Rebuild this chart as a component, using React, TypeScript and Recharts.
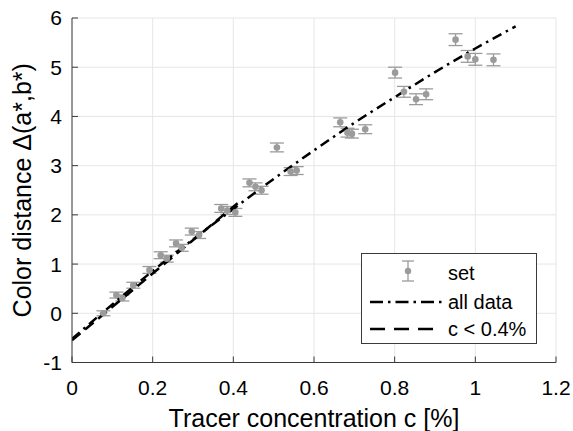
import React from 'react';
import {
  ComposedChart,
  Scatter,
  Line,
  ErrorBar,
  XAxis,
  YAxis,
  CartesianGrid,
  Legend,
} from 'recharts';

// measured points (tracer concentration in %, colour distance, error half-height)
const concX = [
  0.078, 0.11, 0.125, 0.152, 0.192, 0.22, 0.235, 0.258, 0.272, 0.297, 0.315,
  0.37, 0.385, 0.405, 0.44, 0.455, 0.47, 0.508, 0.542, 0.557, 0.665, 0.683,
  0.694, 0.727, 0.801, 0.823, 0.853, 0.878, 0.951, 0.981, 1.0, 1.045,
];
const distY = [
  0.0, 0.37, 0.31, 0.57, 0.88, 1.18, 1.11, 1.42, 1.33, 1.66, 1.59,
  2.13, 2.09, 2.05, 2.65, 2.57, 2.5, 3.37, 2.88, 2.9, 3.88, 3.67,
  3.65, 3.74, 4.89, 4.5, 4.35, 4.45, 5.56, 5.22, 5.16, 5.15,
];
const distErr = [
  0.05, 0.06, 0.06, 0.06, 0.07, 0.07, 0.07, 0.07, 0.07, 0.07, 0.07,
  0.08, 0.08, 0.08, 0.08, 0.08, 0.08, 0.09, 0.08, 0.08, 0.09, 0.09,
  0.09, 0.09, 0.11, 0.11, 0.11, 0.11, 0.12, 0.12, 0.12, 0.12,
];

// fit over all data
const allFitX = [0, 0.1, 0.2, 0.3, 0.4, 0.5, 0.6, 0.7, 0.8, 0.9, 1.0, 1.1];
const allFitY = [-0.52, 0.18, 0.86, 1.5, 2.12, 2.73, 3.31, 3.87, 4.39, 4.9, 5.38, 5.83];

// fit for c < 0.4 %
const lowFitX = [0, 0.42];
const lowFitY = [-0.55, 2.3];

const xTicks = [0, 0.2, 0.4, 0.6, 0.8, 1, 1.2];
const yTicks = [-1, 0, 1, 2, 3, 4, 5, 6];

const points = concX.map((x, i) => ({ x, y: distY[i], err: distErr[i] }));
const allFit = allFitX.map((x, i) => ({ x, y: allFitY[i] }));
const lowFit = lowFitX.map((x, i) => ({ x, y: lowFitY[i] }));

const FONT = '"Liberation Sans", Arial, Helvetica, sans-serif';
const AXIS = '#3a3a3a';
const MARK = '#9b9b9b';

function LegendBox() {
  return (
    <div
      style={{
        width: 176,
        height: 91,
        boxSizing: 'border-box',
        border: `1px solid ${AXIS}`,
        background: '#fff',
        position: 'relative',
        fontFamily: FONT,
        fontSize: 20,
        color: '#000',
      }}
    >
      <svg width={176} height={91} style={{ position: 'absolute', left: 0, top: 0 }}>
        <line x1={46} x2={46} y1={7} y2={27} stroke={MARK} strokeWidth={1.3} />
        <line x1={40} x2={52} y1={7} y2={7} stroke={MARK} strokeWidth={1.3} />
        <line x1={40} x2={52} y1={27} y2={27} stroke={MARK} strokeWidth={1.3} />
        <circle cx={46} cy={17} r={3.2} fill={MARK} />
        <line x1={8} x2={80} y1={48} y2={48} stroke="#000" strokeWidth={2.5} strokeDasharray="13 5 2.5 5" />
        <line x1={8} x2={80} y1={75} y2={75} stroke="#000" strokeWidth={2.5} strokeDasharray="15 9" />
      </svg>
      <span style={{ position: 'absolute', left: 86, top: 7, lineHeight: '24px' }}>set</span>
      <span style={{ position: 'absolute', left: 86, top: 36, lineHeight: '24px' }}>all data</span>
      <span style={{ position: 'absolute', left: 86, top: 63, lineHeight: '24px' }}>c &lt; 0.4%</span>
    </div>
  );
}

export default function App() {
  return (
    <div style={{ position: 'absolute', left: 0, top: 0, width: 573, height: 431, background: '#fff' }}>
      <ComposedChart
        width={573}
        height={431}
        margin={{ top: 18, right: 17, bottom: 0, left: 0 }}
        style={{ fontFamily: FONT }}
      >
        <CartesianGrid stroke="#e6e6e6" strokeWidth={1} />
        <XAxis
          type="number"
          dataKey="x"
          domain={[0, 1.2]}
          ticks={xTicks}
          allowDataOverflow
          height={68.5}
          tickSize={-6}
          tickMargin={23.5}
          stroke={AXIS}
          tick={{ fill: '#000', fontSize: 21 }}
          tickFormatter={(v) => String(v)}
          label={{
            value: 'Tracer concentration c [%]',
            position: 'insideBottom',
            offset: 4,
            fill: '#000',
            fontSize: 25,
          }}
        />
        <XAxis
          xAxisId="top"
          orientation="top"
          type="number"
          dataKey="x"
          domain={[0, 1.2]}
          ticks={xTicks}
          allowDataOverflow
          height={0}
          tickSize={-6}
          tick={false}
          stroke={AXIS}
        />
        <YAxis
          type="number"
          domain={[-1, 6]}
          ticks={yTicks}
          allowDataOverflow
          width={72}
          tickSize={-6}
          tickMargin={16}
          stroke={AXIS}
          tick={{ fill: '#000', fontSize: 21 }}
          label={{
            content: ({ viewBox }: any) => {
              const cy = viewBox.y + viewBox.height / 2;
              const cx = 22;
              return (
                <text
                  x={cx}
                  y={cy}
                  transform={`rotate(-90 ${cx} ${cy})`}
                  textAnchor="middle"
                  dominantBaseline="central"
                  fontSize={25}
                  fill="#000"
                  fontFamily={FONT}
                >
                  Color distance Δ(a*,b*)
                </text>
              );
            },
          }}
        />
        <YAxis
          yAxisId="right"
          orientation="right"
          type="number"
          domain={[-1, 6]}
          ticks={yTicks}
          allowDataOverflow
          width={0}
          tickSize={-6}
          tick={false}
          stroke={AXIS}
        />
        <Scatter
          name="set"
          data={points}
          dataKey="y"
          isAnimationActive={false}
          shape={(p: any) => <circle cx={p.cx} cy={p.cy} r={3.3} fill={MARK} />}
        >
          <ErrorBar dataKey="err" direction="y" width={7} stroke={MARK} strokeWidth={1.3} />
        </Scatter>
        <Line
          name="all data"
          data={allFit}
          dataKey="y"
          type="monotone"
          stroke="#000"
          strokeWidth={2.5}
          strokeDasharray="10 5 2.5 5"
          dot={false}
          activeDot={false}
          isAnimationActive={false}
        />
        <Line
          name="c < 0.4%"
          data={lowFit}
          dataKey="y"
          type="linear"
          stroke="#000"
          strokeWidth={2.5}
          strokeDasharray="11 6"
          dot={false}
          activeDot={false}
          isAnimationActive={false}
        />
        <Line
          xAxisId="top"
          yAxisId="right"
          data={lowFit}
          dataKey="y"
          stroke="none"
          dot={false}
          activeDot={false}
          legendType="none"
          isAnimationActive={false}
        />
        <Legend
          layout="vertical"
          align="center"
          verticalAlign="middle"
          wrapperStyle={{ left: 361, top: 253, width: 176, height: 91 }}
          content={() => <LegendBox />}
        />
      </ComposedChart>
    </div>
  );
}
